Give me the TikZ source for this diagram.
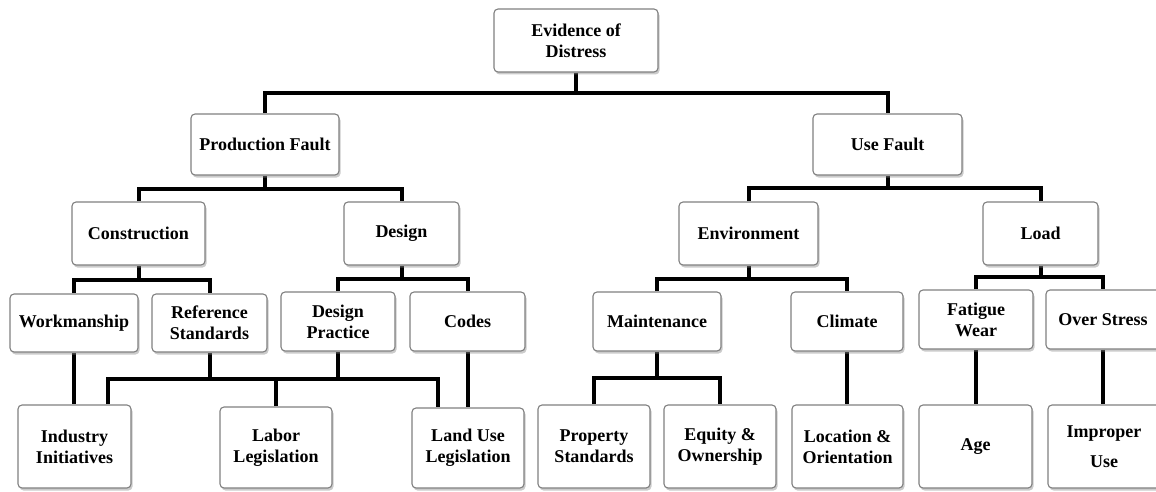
\documentclass[tikz,border=0pt]{standalone}
\usepackage{fontspec}
\setmainfont{Liberation Serif}
\usetikzlibrary{shadows}
\pgfdeclarelayer{background}
\pgfsetlayers{background,main}
\tikzset{
  box/.style={draw=black!50, line width=1.1pt, rounded corners=4pt, fill=white,
    align=center, inner sep=0pt, font=\bfseries\fontsize{18}{21}\selectfont,
    drop shadow={shadow xshift=1.5pt, shadow yshift=-2.5pt, fill=black!45, opacity=0.45}},
  conn/.style={line width=4pt, black, line join=miter}
}
\begin{document}
\begin{tikzpicture}[x=1pt, y=-1pt]
\useasboundingbox (0,0) rectangle (1156,492);

% level 0
\node[box, minimum width=164pt, minimum height=63pt] (root) at (576,40.5) {Evidence of\\Distress};
% level 1
\node[box, minimum width=148pt, minimum height=61pt] (pf) at (265,144.5) {Production Fault};
\node[box, minimum width=149pt, minimum height=61pt] (uf) at (887.5,144.5) {Use Fault};
% level 2
\node[box, minimum width=133pt, minimum height=63pt] (con) at (138.5,233.5) {Construction};
\node[box, minimum width=115pt, minimum height=63pt] (des) at (401.5,233.5) {Design};
\node[box, minimum width=139pt, minimum height=63pt] (env) at (748.5,233.5) {Environment};
\node[box, minimum width=115pt, minimum height=63pt] (load) at (1040.5,233.5) {Load};
% level 3
\node[box, minimum width=128pt, minimum height=58pt] (work) at (74,323) {Workmanship};
\node[box, minimum width=115pt, minimum height=58pt] (ref) at (209.5,323) {Reference\\Standards};
\node[box, minimum width=114pt, minimum height=59pt] (dp) at (338,321.5) {Design\\Practice};
\node[box, minimum width=115pt, minimum height=59pt] (codes) at (467.5,321.5) {Codes};
\node[box, minimum width=128pt, minimum height=59pt] (maint) at (657,321.5) {Maintenance};
\node[box, minimum width=112pt, minimum height=59pt] (climate) at (847,321.5) {Climate};
\node[box, minimum width=114pt, minimum height=59pt] (fw) at (976,319.5) {Fatigue\\Wear};
\node[box, minimum width=114pt, minimum height=59pt] (os) at (1103,319.5) {Over Stress};
% level 4
\node[box, minimum width=113pt, minimum height=83pt] (ind) at (74.5,446.5) {Industry\\Initiatives};
\node[box, minimum width=112pt, minimum height=81pt] (labor) at (276,447.5) {Labor\\Legislation};
\node[box, minimum width=112pt, minimum height=80pt] (land) at (468,448) {Land Use\\Legislation};
\node[box, minimum width=112pt, minimum height=83pt] (prop) at (594,446.5) {Property\\Standards};
\node[box, minimum width=112pt, minimum height=83pt] (eq) at (720,446.5) {Equity \&\\Ownership};
\node[box, minimum width=111pt, minimum height=83pt] (loc) at (847.5,446.5) {Location \&\\Orientation};
\node[box, minimum width=113pt, minimum height=83pt] (age) at (975.5,446.5) {Age};
\node[box, minimum width=112pt, minimum height=83pt] (imp) at (1104,446.5) {Improper\\[9pt]Use};

% bus levels
\coordinate (b0) at (0,93);
\coordinate (b1) at (0,189);
\coordinate (b2) at (0,188);
\coordinate (b3) at (0,280);
\coordinate (b4) at (0,279);
\coordinate (b5) at (0,277);
\coordinate (b6) at (0,378);
\coordinate (bL) at (108,379);
\coordinate (bR) at (438,379);

\begin{pgfonlayer}{background}
\fill[white] (0,0) rectangle (1156,492);
\draw[conn] (root.south) -- (root.south |- b0);
\draw[conn] (pf.north) -- (pf.north |- b0) -- (uf.north |- b0) -- (uf.north);

\draw[conn] (pf.south) -- (pf.south |- b1);
\draw[conn] (con.north) -- (con.north |- b1) -- (des.north |- b1) -- (des.north);
\draw[conn] (uf.south) -- (uf.south |- b2);
\draw[conn] (env.north) -- (env.north |- b2) -- (load.north |- b2) -- (load.north);

\draw[conn] (con.south) -- (con.south |- b3);
\draw[conn] (work.north) -- (work.north |- b3) -- (ref.north |- b3) -- (ref.north);
\draw[conn] (des.south) -- (des.south |- b4);
\draw[conn] (dp.north) -- (dp.north |- b4) -- (codes.north |- b4) -- (codes.north);
\draw[conn] (env.south) -- (env.south |- b4);
\draw[conn] (maint.north) -- (maint.north |- b4) -- (climate.north |- b4) -- (climate.north);
\draw[conn] (load.south) -- (load.south |- b5);
\draw[conn] (fw.north) -- (fw.north |- b5) -- (os.north |- b5) -- (os.north);

\draw[conn] (work.south) -- (work.south |- ind.north);
\draw[conn] (ref.south) -- (ref.south |- bL);
\draw[conn] (dp.south) -- (dp.south |- bL);
\draw[conn] (ind.north -| bL) -- (bL) -- (bR) -- (land.north -| bR);
\draw[conn] (labor.north) -- (labor.north |- bL);
\draw[conn] (codes.south) -- (codes.south |- land.north);

\draw[conn] (maint.south) -- (maint.south |- b6);
\draw[conn] (prop.north) -- (prop.north |- b6) -- (eq.north |- b6) -- (eq.north);
\draw[conn] (climate.south) -- (climate.south |- loc.north);
\draw[conn] (fw.south) -- (fw.south |- age.north);
\draw[conn] (os.south) -- (os.south |- imp.north);
\end{pgfonlayer}
\end{tikzpicture}
\end{document}
